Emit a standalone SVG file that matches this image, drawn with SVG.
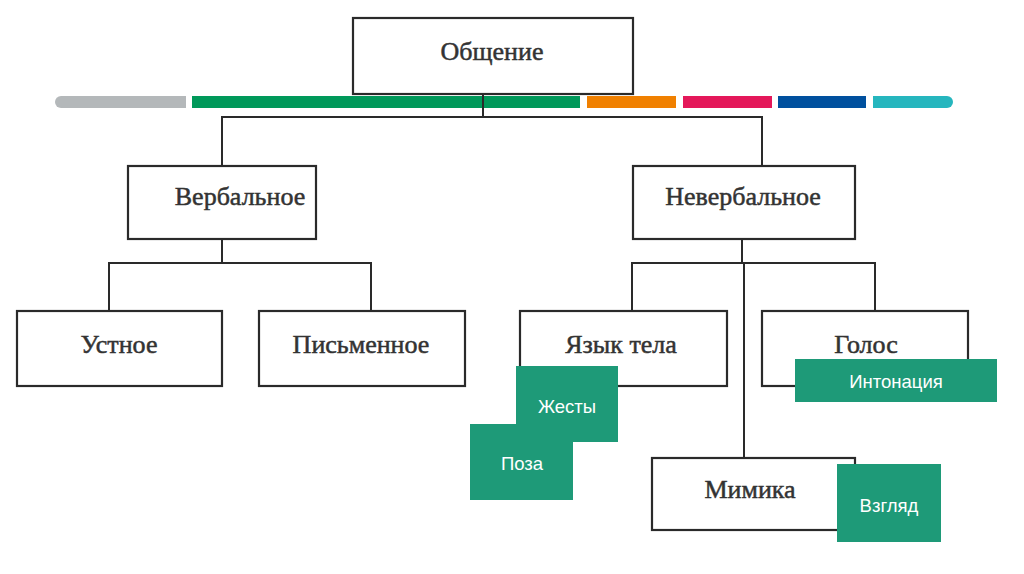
<svg xmlns="http://www.w3.org/2000/svg" width="1024" height="574" viewBox="0 0 1024 574">
<style>
.box{fill:#fff;stroke:#2a2a2a;stroke-width:2.2}
.t{font-family:"Liberation Serif",serif;font-size:26px;fill:#333;stroke:#333;stroke-width:0.5;text-anchor:middle;dominant-baseline:central}
.g{fill:#1e9a78}
.w{font-family:"Liberation Sans",Arial,sans-serif;font-size:18.5px;fill:#fff;text-anchor:middle;dominant-baseline:central}
.c{fill:none;stroke:#2a2a2a;stroke-width:2}
</style>
<rect width="1024" height="574" fill="#fff"/>
<g id="colorbar">
<path d="M61,96 H186 V108 H61 A6,6 0 0 1 61,96 Z" fill="#b4b8ba"/>
<rect x="192" y="96" width="388" height="12" fill="#00995a"/>
<rect x="587" y="96" width="89" height="12" fill="#f08000"/>
<rect x="683" y="96" width="89" height="12" fill="#e4185a"/>
<rect x="778" y="96" width="88" height="12" fill="#00509e"/>
<path d="M873,96 H947 A6,6 0 0 1 947,108 H873 Z" fill="#26b6be"/>
</g>
<g id="connectors">
<path class="c" d="M483,94 V117 M222,117 H762 M222,116 V166 M762,116 V166"/>
<path class="c" d="M222,239 V263 M109,263 H371 M109,262 V311 M371,262 V311"/>
<path class="c" d="M742,239 V263 M632,263 H875 M632,262 V311 M875,262 V311 M744,263 V458"/>
</g>
<g id="n-obshenie"><rect class="box" x="353" y="18" width="280" height="76"/><text class="t" x="492" y="51">Общение</text></g>
<g id="n-verbal"><rect class="box" x="128" y="166" width="188" height="73"/><text class="t" x="240" y="196">Вербальное</text></g>
<g id="n-neverbal"><rect class="box" x="633" y="166" width="222" height="73"/><text class="t" x="743" y="196">Невербальное</text></g>
<g id="n-ustnoe"><rect class="box" x="17" y="311" width="205" height="75"/><text class="t" x="119" y="344">Устное</text></g>
<g id="n-pismennoe"><rect class="box" x="259" y="311" width="206" height="75"/><text class="t" x="361" y="344">Письменное</text></g>
<g id="n-yazyk"><rect class="box" x="520" y="311" width="207" height="75"/><text class="t" x="621" y="344">Язык тела</text></g>
<g id="n-golos"><rect class="box" x="762" y="311" width="206" height="75"/><text class="t" x="866" y="344">Голос</text></g>
<g id="n-mimika"><rect class="box" x="652" y="458" width="203" height="72"/><text class="t" x="750" y="489">Мимика</text></g>
<g id="n-zhesty"><rect class="g" x="516" y="366" width="102" height="76"/><text class="w" x="567" y="406">Жесты</text></g>
<g id="n-poza"><rect class="g" x="470" y="424" width="103" height="76"/><text class="w" x="522" y="463">Поза</text></g>
<g id="n-intonaciya"><rect class="g" x="795" y="359" width="202" height="43"/><text class="w" x="896" y="381">Интонация</text></g>
<g id="n-vzglyad"><rect class="g" x="837" y="464" width="104" height="78"/><text class="w" x="889" y="505">Взгляд</text></g>
</svg>
